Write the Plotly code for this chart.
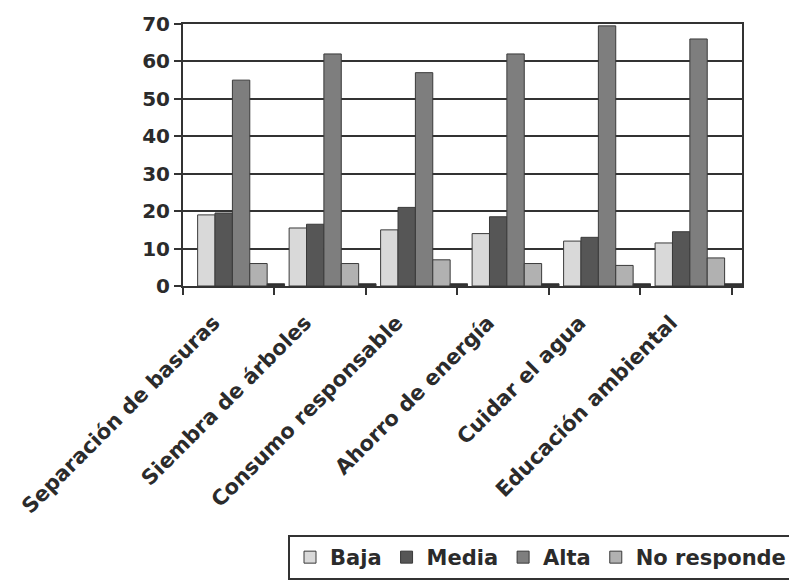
import plotly.graph_objects as go

# Survey categories and response levels (percent)
categorias = [
    "Separación de basuras",
    "Siembra de árboles",
    "Consumo responsable",
    "Ahorro de energía",
    "Cuidar el agua",
    "Educación ambiental",
]
baja = [19, 15.5, 15, 14, 12, 11.5]
media = [19.5, 16.5, 21, 18.5, 13, 14.5]
alta = [55, 62, 57, 62, 69.5, 66]
no_responde = [6, 6, 7, 6, 5.5, 7.5]
otro = [0.6, 0.6, 0.6, 0.6, 0.6, 0.6]

y_ticks = [0, 10, 20, 30, 40, 50, 60, 70]

FONT = "DejaVu Sans, Verdana, sans-serif"
EDGE = "#3a3a3a"
TEXT = "#2b2b2b"

# name, values, fill, in legend, offset within the category slot
series = [
    ("Baja", baja, "#d9d9d9", True, -0.34),
    ("Media", media, "#565656", True, -0.15),
    ("Alta", alta, "#7e7e7e", True, 0.04),
    ("No responde", no_responde, "#b1b1b1", True, 0.23),
    ("Otro", otro, "#2e2e2e", False, 0.42),
]
BAR_W = 0.19

fig = go.Figure()
for name, vals, color, show, off in series:
    fig.add_trace(go.Bar(
        x=categorias, y=vals, name=name,
        width=BAR_W, offset=off,
        marker=dict(color=color, line=dict(color=EDGE, width=1)),
        showlegend=show,
    ))

fig.update_layout(
    width=789, height=580,
    margin=dict(l=183, r=47, t=18, b=294),
    paper_bgcolor="white", plot_bgcolor="white",
    barmode="overlay",
    font=dict(family=FONT, size=20, color=TEXT, weight="bold"),
    legend=dict(
        orientation="h",
        xref="container", yref="container",
        x=288 / 789, y=1 - 535 / 580, xanchor="left", yanchor="top",
        bordercolor="#333333", borderwidth=2,
        font=dict(family=FONT, size=21, color=TEXT, weight="bold"),
        itemwidth=30, tracegroupgap=0,
    ),
    xaxis=dict(
        type="category",
        tickson="boundaries",
        ticks="outside", ticklen=7, tickwidth=2, tickcolor="#333333",
        showline=True, linecolor="#333333", linewidth=2, mirror=True,
        showgrid=False,
        tickangle=-45,
        ticklabelstandoff=14, ticklabelshift=-15,
        tickfont=dict(family=FONT, size=21, color=TEXT, weight="bold"),
    ),
    yaxis=dict(
        range=[0, 70],
        tickvals=y_ticks,
        ticks="outside", ticklen=7, tickwidth=2, tickcolor="#333333",
        showline=True, linecolor="#333333", linewidth=2, mirror=True,
        showgrid=True, gridcolor="#333333", gridwidth=2,
        zeroline=False,
        tickfont=dict(family=FONT, size=20, color=TEXT, weight="bold"),
    ),
)

fig.write_html("out.html")
